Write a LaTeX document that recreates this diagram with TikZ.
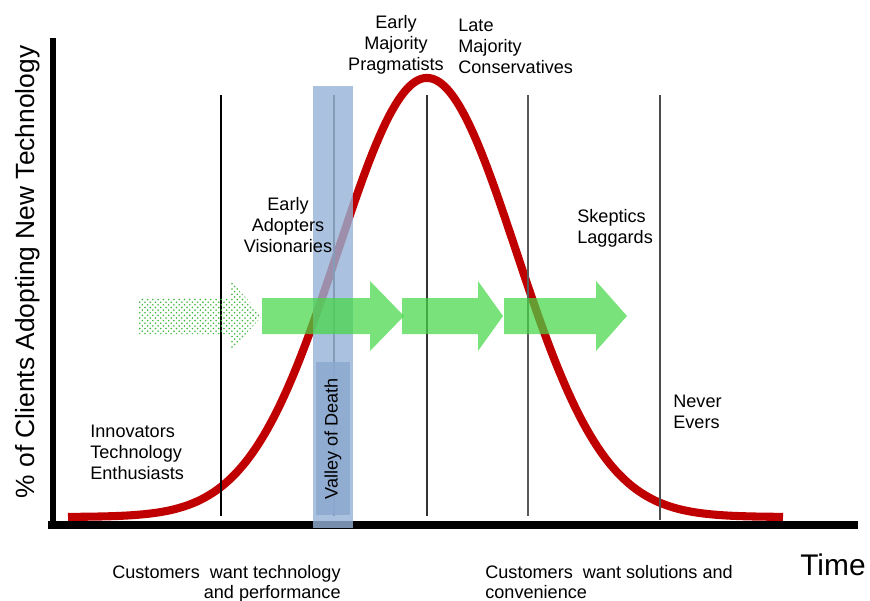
\documentclass[tikz,border=0pt]{standalone}
\usepackage{fontspec}
\setmainfont{Liberation Sans}
\usetikzlibrary{patterns}
\definecolor{curveRed}{RGB}{192,0,0}
\definecolor{bandBlue}{RGB}{149,179,215}
\definecolor{vodBlue}{RGB}{140,168,208}
\definecolor{arrowGreen}{RGB}{70,215,70}
\tikzset{
  lbl/.style   ={inner sep=0pt, font=\fontsize{10.3}{12}\selectfont, align=left},
  ax/.style    ={line width=3.6pt, draw=black},
  bell/.style  ={line width=4.6pt, draw=curveRed},
  phase/.style ={line width=0.6pt, draw=black!85},
  band/.style  ={fill=bandBlue, fill opacity=0.8},
  vod/.style   ={fill=vodBlue, fill opacity=0.85},
  grn/.style   ={fill=arrowGreen, fill opacity=0.72},
  grndot/.style={pattern=crosshatch dots, pattern color=arrowGreen!85!black},
}

\begin{document}
\begin{tikzpicture}[x=0.02cm, y=-0.02cm]
\useasboundingbox (0,0) rectangle (870,600);
% axes
\draw[ax] (53,38) -- (53,528);
\draw[ax, line width=4.6pt] (48,525) -- (858,525);
% adoption curve
\draw[bell] plot[domain=68:783, samples=160, smooth]
  (\x, {517-439*exp(-0.5*((\x-427)/89)^2)});
% phase borders
\foreach \px/\pb/\pc in {221/516/black, 334/516/black!75, 427/516/black!80,
                         528/516/black!65, 660/520/black!70}
  \draw[phase, draw=\pc] (\px,95) -- (\px,\pb);
% chasm
\fill[band] (313,86) rectangle (353,528);
\fill[vod] (316,362) rectangle (350,515);
\node[lbl, rotate=90] (valley) at (333,439) {Valley of Death};
% arrows
\fill[grndot] (138,298) -- (231,298) -- (231,281) -- (262,316)
  -- (231,351) -- (231,334) -- (138,334) -- cycle;
\foreach \xs/\xb/\xt in {262/370/404, 402/478/503, 504/596/627}
  \fill[grn] (\xs,298) -- (\xb,298) -- (\xb,281) -- (\xt,316)
    -- (\xb,351) -- (\xb,334) -- (\xs,334) -- cycle;
% groups
\node[lbl, anchor=north west] (innov) at (90,425) {Innovators\\Technology\\Enthusiasts};
\node[lbl, anchor=north, align=center] (early) at (288,197) {Early\\Adopters\\Visionaries};
\node[lbl, anchor=north, align=center] (emaj) at (396,15) {Early\\Majority\\Pragmatists};
\node[lbl, anchor=north west] (lmaj) at (458,19) {Late\\Majority\\Conservatives};
\node[lbl, anchor=north west] (skep) at (577,209) {Skeptics\\Laggards};
\node[lbl, anchor=north west] (never) at (673,395) {Never\\Evers};
% axis texts
\node[lbl, font=\fontsize{10.3}{11.5}\selectfont, anchor=north east, align=right]
  (wanttech) at (341,565) {Customers~ want technology\\and performance};
\node[lbl, font=\fontsize{10.3}{11.5}\selectfont, anchor=north west]
  (wantsol) at (485,565) {Customers~ want solutions and\\convenience};
\node[lbl, font=\fontsize{17}{20}\selectfont, anchor=west] (time) at (800,565) {Time};
\node[lbl, font=\fontsize{15}{18}\selectfont, rotate=90] (ylab) at (28,272)
  {\% of Clients Adopting New Technology};
\end{tikzpicture}
\end{document}
